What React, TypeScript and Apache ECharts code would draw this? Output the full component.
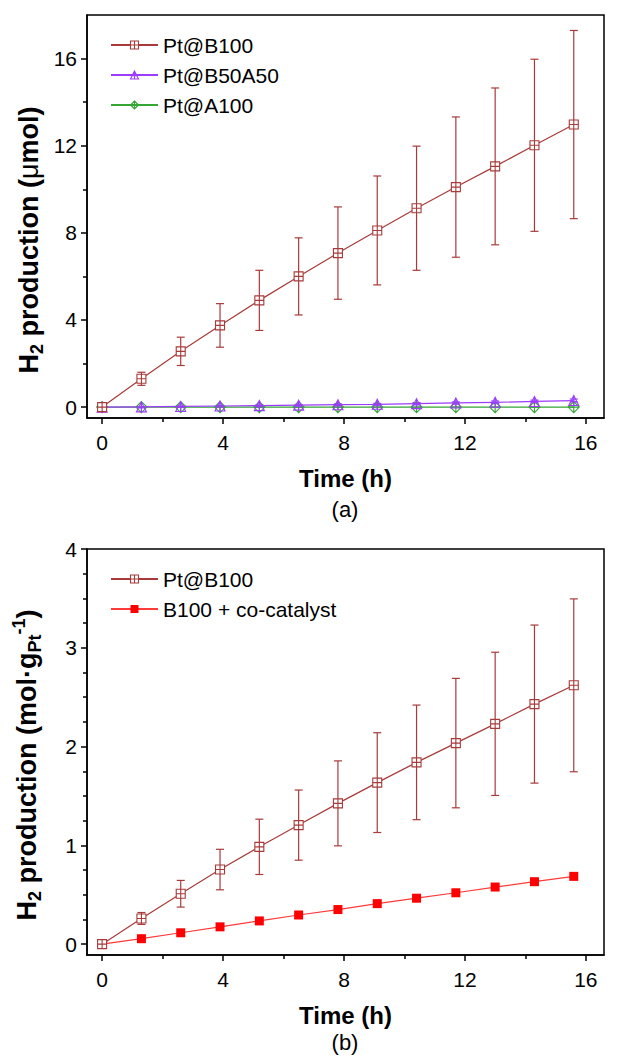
import React, { useEffect, useRef } from "react";
import * as echarts from "echarts";

// ---------- data ----------
const timeH = [0, 1.3, 2.6, 3.9, 5.2, 6.5, 7.8, 9.1, 10.4, 11.7, 13.0, 14.3, 15.6];

// panel (a): H2 production (µmol)
const aB100 = [0, 1.3, 2.56, 3.75, 4.9, 6.0, 7.07, 8.11, 9.13, 10.1, 11.05, 12.02, 12.97];
const aB100Err = [0, 0.3, 0.65, 1.0, 1.38, 1.77, 2.12, 2.5, 2.85, 3.22, 3.6, 3.95, 4.32];
const aB50A50 = [0, 0.01, 0.03, 0.05, 0.07, 0.09, 0.11, 0.13, 0.16, 0.19, 0.22, 0.26, 0.3];
const aB50A50Err = [0, 0.01, 0.02, 0.02, 0.03, 0.03, 0.04, 0.04, 0.05, 0.05, 0.06, 0.06, 0.07];
const aA100 = [0, 0, 0, 0, 0, 0, 0, 0, 0, 0, 0, 0, 0];

// panel (b): H2 production (mol·gPt^-1)
const bB100 = [0, 0.26, 0.51, 0.755, 0.985, 1.205, 1.425, 1.635, 1.84, 2.035, 2.23, 2.43, 2.62];
const bB100Err = [0, 0.06, 0.135, 0.205, 0.28, 0.355, 0.43, 0.505, 0.58, 0.655, 0.725, 0.8, 0.875];
const bCocat = [0, 0.055, 0.115, 0.175, 0.235, 0.295, 0.35, 0.41, 0.465, 0.52, 0.578, 0.632, 0.686];

const xMajor = [0, 4, 8, 12, 16];
const xMinor = [2, 6, 10, 14];
const yAMajor = [0, 4, 8, 12, 16];
const yAMinor = [2, 6, 10, 14];
const yBMajor = [0, 1, 2, 3, 4];
const yBMinor = [0.25, 0.5, 0.75, 1.25, 1.5, 1.75, 2.25, 2.5, 2.75, 3.25, 3.5, 3.75];

const legendA = ["Pt@B100", "Pt@B50A50", "Pt@A100"];
const legendB = ["Pt@B100", "B100 + co-catalyst"];

// ---------- styles ----------
const FONT = "'Liberation Sans', Arial, sans-serif";
const BROWN = "#a83a3a";
const PURPLE = "#9d3cff";
const GREEN = "#35a535";
const RED = "#ff0000";
const RED_LINE = "#ff3a3a";
const CLEAR = "rgba(255,255,255,0)";

const SYM_SQ = "path://M0,0L10,0L10,10L0,10Z M5,0L5,10 M0,5L10,5";
const SYM_TRI = "path://M5,0L10,10L0,10Z M5,0L5,10 M2.5,6L7.5,6";
const SYM_DIA = "path://M5,0L10,5L5,10L0,5Z M5,0L5,10 M0,5L10,5";

const styleOf: Record<string, any> = {
  "Pt@B100": { color: "#fff", borderColor: BROWN, borderWidth: 1.1 },
  "Pt@B50A50": { color: CLEAR, borderColor: PURPLE, borderWidth: 1.1 },
  "Pt@A100": { color: CLEAR, borderColor: GREEN, borderWidth: 1.1 },
  "B100 + co-catalyst": { color: RED, borderColor: RED, borderWidth: 0 },
};

const pairs = (ys: number[]) => timeH.map((t, i) => [t, ys[i]]);
const errs = (ys: number[], es: number[]) =>
  timeH.map((t, i) => [t, ys[i] - es[i], ys[i] + es[i]]).filter((d) => d[2] - d[1] > 0.02);

function errorSeries(name: string, data: number[][], color: string, gi: number) {
  return {
    type: "custom",
    name,
    xAxisIndex: gi * 2,
    yAxisIndex: gi * 2,
    z: 1,
    encode: { x: 0, y: [1, 2] },
    data,
    renderItem: (params: any, api: any) => {
      const x = api.value(0);
      const lo = api.coord([x, api.value(1)]);
      const hi = api.coord([x, api.value(2)]);
      const w = 4;
      const st = { stroke: color, lineWidth: 1.2 };
      return {
        type: "group",
        children: [
          { type: "line", shape: { x1: hi[0], y1: hi[1], x2: lo[0], y2: lo[1] }, style: st },
          { type: "line", shape: { x1: hi[0] - w, y1: hi[1], x2: hi[0] + w, y2: hi[1] }, style: st },
          { type: "line", shape: { x1: lo[0] - w, y1: lo[1], x2: lo[0] + w, y2: lo[1] }, style: st },
        ],
      };
    },
  };
}

function lineSeries(name: string, data: number[][], color: string, symbol: string, size: number, gi: number, z: number) {
  return {
    type: "line",
    name,
    xAxisIndex: gi * 2,
    yAxisIndex: gi * 2,
    data,
    z,
    symbol,
    symbolSize: size,
    showAllSymbol: true,
    lineStyle: { color, width: 1.2 },
    itemStyle: styleOf[name],
  };
}

function xAxes(gi: number) {
  const base = {
    gridIndex: gi,
    type: "value",
    min: -0.5,
    max: 16.6,
    position: "bottom",
    splitLine: { show: false },
  };
  return [
    {
      ...base,
      axisLine: { show: true, onZero: false, lineStyle: { color: "#000", width: 1.5 } },
      axisTick: { show: true, customValues: xMajor, length: 6, lineStyle: { color: "#000", width: 1.5 } },
      axisLabel: { show: true, customValues: xMajor, fontSize: 21, color: "#000", fontFamily: FONT, margin: 14 },
      name: "Time (h)",
      nameLocation: "middle",
      nameGap: 48,
      nameTextStyle: { fontSize: 24, fontWeight: "bold", color: "#000", fontFamily: FONT },
    },
    {
      ...base,
      axisLine: { show: false, onZero: false },
      axisTick: { show: true, customValues: xMinor, length: 4, lineStyle: { color: "#000", width: 1.5 } },
      axisLabel: { show: false },
    },
  ];
}

function yAxes(gi: number, min: number, max: number, major: number[], minor: number[]) {
  const base = { gridIndex: gi, type: "value", min, max, position: "left", splitLine: { show: false } };
  return [
    {
      ...base,
      axisLine: { show: true, onZero: false, lineStyle: { color: "#000", width: 1.5 } },
      axisTick: { show: true, customValues: major, length: 6, lineStyle: { color: "#000", width: 1.5 } },
      axisLabel: { show: true, customValues: major, fontSize: 21, color: "#000", fontFamily: FONT, margin: 10 },
    },
    {
      ...base,
      axisLine: { show: false, onZero: false },
      axisTick: { show: true, customValues: minor, length: 4, lineStyle: { color: "#000", width: 1.5 } },
      axisLabel: { show: false },
    },
  ];
}

const titleRich = {
  b: { fontSize: 27, fontWeight: "bold", fontFamily: FONT, color: "#000", lineHeight: 34 },
  m: { fontSize: 27, fontWeight: "normal", fontFamily: FONT, color: "#000", lineHeight: 34 },
  s: { fontSize: 18, fontWeight: "bold", fontFamily: FONT, color: "#000", lineHeight: 18, verticalAlign: "bottom" },
  u: { fontSize: 18, fontWeight: "bold", fontFamily: FONT, color: "#000", lineHeight: 18, verticalAlign: "top" },
};

export default function App() {
  const ref = useRef<HTMLDivElement>(null);
  useEffect(() => {
    if (!ref.current) return;
    const chart = echarts.init(ref.current, null, { renderer: "svg" });
    const legendCommon = {
      orient: "vertical",
      left: 105,
      itemWidth: 47,
      itemHeight: 10,
      itemGap: 8,
      textStyle: { fontSize: 21, color: "#000", fontFamily: FONT, lineHeight: 22 },
      selectedMode: false,
    };
    const legendData = (names: string[]) => names.map((n) => ({ name: n, itemStyle: styleOf[n] }));
    chart.setOption({
      animation: false,
      backgroundColor: "#fff",
      grid: [
        { left: 87, top: 15, width: 517, height: 403, show: true, borderColor: "#000", borderWidth: 1.5, backgroundColor: "transparent" },
        { left: 87, top: 549, width: 517, height: 406, show: true, borderColor: "#000", borderWidth: 1.5, backgroundColor: "transparent" },
      ],
      legend: [
        { ...legendCommon, top: 29, data: legendData(legendA) },
        { ...legendCommon, top: 563, data: legendData(legendB) },
      ],
      xAxis: [...xAxes(0), ...xAxes(1)],
      yAxis: [...yAxes(0, -0.5, 18, yAMajor, yAMinor), ...yAxes(1, -0.11, 4, yBMajor, yBMinor)],
      series: [
        lineSeries("Pt@B100", pairs(aB100), BROWN, SYM_SQ, 9, 0, 5),
        lineSeries("Pt@B50A50", pairs(aB50A50), PURPLE, SYM_TRI, 10, 0, 4),
        lineSeries("Pt@A100", pairs(aA100), GREEN, SYM_DIA, 11, 0, 3),
        errorSeries("errA1", errs(aB100, aB100Err), BROWN, 0),
        errorSeries("errA2", errs(aB50A50, aB50A50Err), PURPLE, 0),
        lineSeries("Pt@B100", pairs(bB100), BROWN, SYM_SQ, 9, 1, 5),
        lineSeries("B100 + co-catalyst", pairs(bCocat), RED_LINE, "rect", 9, 1, 4),
        errorSeries("errB1", errs(bB100, bB100Err), BROWN, 1),
      ],
      graphic: [
        {
          type: "text",
          x: 29,
          y: 240,
          rotation: Math.PI / 2,
          style: {
            text: "{b|H}{s|2}{b| production (}{m|\u03bc}{b|mol)}",
            rich: titleRich,
            align: "center",
            verticalAlign: "middle",
          },
        },
        {
          type: "text",
          x: 27,
          y: 765,
          rotation: Math.PI / 2,
          style: {
            text: "{b|H}{s|2}{b| production (mol\u00b7g}{s|Pt}{u|-1}{b|)}",
            rich: titleRich,
            align: "center",
            verticalAlign: "middle",
          },
        },
        {
          type: "text",
          x: 345,
          y: 509,
          style: { text: "(a)", fontSize: 22, fontFamily: FONT, fill: "#000", align: "center", verticalAlign: "middle" },
        },
        {
          type: "text",
          x: 345,
          y: 1042,
          style: { text: "(b)", fontSize: 22, fontFamily: FONT, fill: "#000", align: "center", verticalAlign: "middle" },
        },
      ],
    });
    return () => chart.dispose();
  }, []);
  return <div ref={ref} style={{ position: "absolute", left: 0, top: 0, width: 624, height: 1058 }} />;
}
